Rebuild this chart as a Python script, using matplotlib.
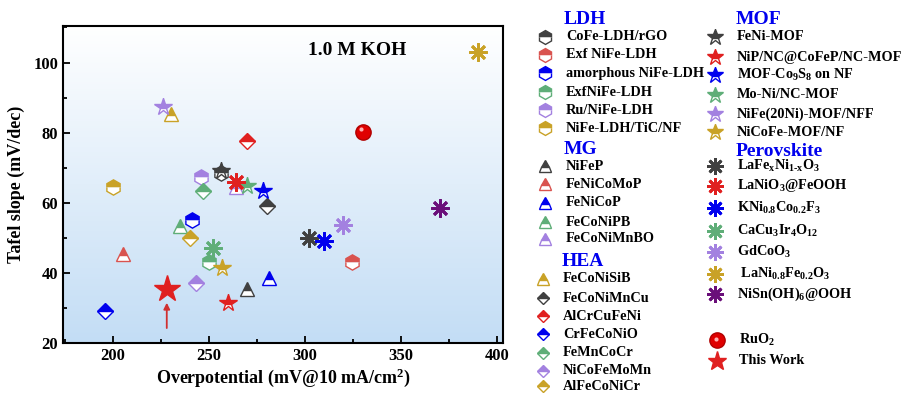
import numpy as np
import matplotlib
matplotlib.use('Agg')
import matplotlib.pyplot as plt
from matplotlib.colors import LinearSegmentedColormap
from matplotlib.ticker import MultipleLocator

plt.rcParams['font.family'] = ['Liberation Serif', 'DejaVu Serif']
plt.rcParams['font.weight'] = 'bold'
plt.rcParams['mathtext.fontset'] = 'custom'
plt.rcParams['mathtext.rm'] = 'Liberation Serif:bold'
plt.rcParams['mathtext.it'] = 'Liberation Serif:bold'
plt.rcParams['mathtext.bf'] = 'Liberation Serif:bold'
plt.rcParams['mathtext.default'] = 'rm'

# colours
gray = '#404040'
red = '#e02020'
red_l = '#d9534f'
blue = '#0000ee'
green = '#5fae78'
lav = '#a381e0'
gold = '#c9a227'
purple = '#6a0f7a'

# LDH (hexagons)
ldh_names = ['CoFe-LDH/rGO', 'Exf NiFe-LDH', 'amorphous NiFe-LDH', 'ExfNiFe-LDH',
             'Ru/NiFe-LDH', 'NiFe-LDH/TiC/NF']
ldh_eta = [256, 324.5, 241, 250, 246, 200]
ldh_tafel = [68.5, 43, 55, 43, 67.5, 64.5]
ldh_colors = [gray, red_l, blue, green, lav, gold]

# MG (triangles)
mg_names = ['NiFeP', 'FeNiCoMoP', 'FeNiCoP', 'FeCoNiPB', 'FeCoNiMnBO']
mg_eta = [270, 205, 281, 235, 264]
mg_tafel = [35.5, 45.3, 38.7, 53.4, 64.5]
mg_colors = [gray, red_l, blue, green, lav]

# HEA (first triangle, then diamonds)
hea_names = ['FeCoNiSiB', 'FeCoNiMnCu', 'AlCrCuFeNi', 'CrFeCoNiO', 'FeMnCoCr',
             'NiCoFeMoMn', 'AlFeCoNiCr']
hea_eta = [230, 280, 270, 196, 247, 243, 240]
hea_tafel = [85.4, 59.1, 77.7, 29.1, 63.3, 37.1, 50.1]
hea_colors = [gold, gray, red, blue, green, lav, gold]
hea_markers = ['^', 'D', 'D', 'D', 'D', 'D', 'D']

# MOF (stars)
mof_names = ['FeNi-MOF', 'NiP/NC@CoFeP/NC-MOF', r'MOF-Co$_9$S$_8$ on NF', 'Mo-Ni/NC-MOF',
             'NiFe(20Ni)-MOF/NFF', 'NiCoFe-MOF/NF']
mof_eta = [256, 260, 278, 270, 226, 257]
mof_tafel = [69.1, 31.3, 63.3, 64.9, 87.4, 41.3]
mof_colors = [gray, red, blue, green, lav, gold]

# Perovskite (asterisks)
per_names = [r'LaFe$_x$Ni$_{1\text{-}x}$O$_3$', r'LaNiO$_3$@FeOOH', r'KNi$_{0.8}$Co$_{0.2}$F$_3$',
             r'CaCu$_3$Ir$_4$O$_{12}$', r'GdCoO$_3$', r' LaNi$_{0.8}$Fe$_{0.2}$O$_3$',
             r'NiSn(OH)$_6$@OOH']
per_eta = [302, 264, 310, 252, 320, 390, 370]
per_tafel = [50, 66, 49, 47, 53.6, 103, 58.4]
per_colors = [gray, red, blue, green, lav, gold, purple]

ruo2 = (330, 80.3)
this_work = (228, 35.3)

fig = plt.figure(figsize=(9.07, 3.93), dpi=100)
ax = fig.add_axes([0.0695, 0.127, 0.485, 0.8075])

cmap = LinearSegmentedColormap.from_list('bg', ['#c3ddf5', '#ffffff'])
grad = np.linspace(0, 1, 256).reshape(-1, 1)
ax.imshow(grad, extent=[0, 1, 0, 1], transform=ax.transAxes, aspect='auto',
          cmap=cmap, origin='lower', zorder=0)


def half(a, x, y, m, c, ms, z=3):
    a.plot(x, y, marker=m, ms=ms, color=c, fillstyle='top', markerfacecoloralt='white',
           mec=c, mew=1.0, ls='none', zorder=z)


def aster(a, x, y, c, ms, z=3):
    a.plot(x, y, marker=(8, 2, 0), ms=ms, color=c, mew=2.0, ls='none', zorder=z)


for x, y, c in zip(mg_eta, mg_tafel, mg_colors):
    half(ax, x, y, '^', c, 10, z=2)
for x, y, c in zip(ldh_eta, ldh_tafel, ldh_colors):
    half(ax, x, y, 'h', c, 11, z=2)
for x, y, c, m in zip(hea_eta, hea_tafel, hea_colors, hea_markers):
    half(ax, x, y, m, c, 10 if m == '^' else 8)
for x, y, c in zip(mof_eta, mof_tafel, mof_colors):
    half(ax, x, y, '*', c, 13, z=4)
for x, y, c in zip(per_eta, per_tafel, per_colors):
    aster(ax, x, y, c, 13, z=4)

ax.plot(*ruo2, marker='o', ms=11, color='#e00000', mec='#b00000', ls='none', zorder=4)
ax.plot(ruo2[0] - 0.8, ruo2[1] + 0.8, marker='o', ms=3, color='#ffb0b0', mec='none',
        ls='none', zorder=5)
ax.plot(*this_work, marker='*', ms=20, color=red, mec=red, ls='none', zorder=5)
ax.annotate('', xy=(this_work[0], 32.3), xytext=(this_work[0], 23.5),
            arrowprops=dict(arrowstyle='-|>', color='#d03030', lw=1.3, mutation_scale=9),
            zorder=5)

ax.text(327, 103.5, '1.0 M KOH', ha='center', va='center', fontsize=14, fontweight='bold')

ax.set_xlim(174, 403)
ax.set_ylim(20, 110.5)
ax.xaxis.set_major_locator(MultipleLocator(50))
ax.xaxis.set_minor_locator(MultipleLocator(25))
ax.yaxis.set_major_locator(MultipleLocator(20))
ax.yaxis.set_minor_locator(MultipleLocator(10))
ax.tick_params(which='both', direction='in', width=1.3, labelsize=12, top=False, right=False)
ax.tick_params(which='major', length=5)
ax.tick_params(which='minor', length=3)
for s in ax.spines.values():
    s.set_linewidth(1.5)
ax.set_xlabel(r'Overpotential (mV@10 mA/cm$^2$)', fontsize=13, fontweight='bold', labelpad=2)
ax.set_ylabel('Tafel slope (mV/dec)', fontsize=13, fontweight='bold', labelpad=6)

# legend drawn in pixel coordinates
lg = fig.add_axes([0, 0, 1, 1])
lg.set_xlim(0, 907)
lg.set_ylim(393, 0)
lg.axis('off')

fs = 10.3
head = dict(color=blue, fontsize=14, fontweight='bold', va='center', ha='left')


def item(mx, tx, y, label, draw):
    draw(mx, y)
    lg.text(tx, y, label, fontsize=fs, fontweight='bold', va='center', ha='left')


lg.text(564, 19, 'LDH', **head)
for name, c, y in zip(ldh_names, ldh_colors, [37, 55, 73, 92, 110, 128]):
    item(545, 566, y, name, lambda x, yy, c=c: half(lg, x, yy, 'h', c, 10))
lg.text(564, 150, 'MG', **head)
for name, c, y in zip(mg_names, mg_colors, [166, 184, 203, 222, 239]):
    item(545, 566, y, name, lambda x, yy, c=c: half(lg, x, yy, '^', c, 9))
lg.text(562, 262, 'HEA', **head)
for name, c, m, y in zip(hea_names, hea_colors, hea_markers, [279, 298, 316, 334, 353, 371, 386]):
    item(543, 563, y, name, lambda x, yy, c=c, m=m: half(lg, x, yy, m, c, 6.5 if m == 'D' else 9))
lg.text(736, 19, 'MOF', **head)
for name, c, y in zip(mof_names, mof_colors, [37, 57, 75, 95, 114, 132]):
    item(715, 737, y, name, lambda x, yy, c=c: half(lg, x, yy, '*', c, 12))
lg.text(736, 151, 'Perovskite', **head)
for name, c, y in zip(per_names, per_colors, [166, 186, 208, 231, 252, 274, 294]):
    item(715, 737, y, name, lambda x, yy, c=c: aster(lg, x, yy, c, 12))

lg.plot(717, 340, marker='o', ms=11, color='#e00000', mec='#b00000', ls='none')
lg.plot(715.5, 338.5, marker='o', ms=3, color='#ffb0b0', mec='none', ls='none')
lg.text(739, 340, r'RuO$_2$', fontsize=fs, fontweight='bold', va='center', ha='left')
lg.plot(717, 361, marker='*', ms=14, color=red, mec=red, ls='none')
lg.text(739, 361, 'This Work', fontsize=fs, fontweight='bold', va='center', ha='left')

fig.savefig('out.png', dpi=100)
